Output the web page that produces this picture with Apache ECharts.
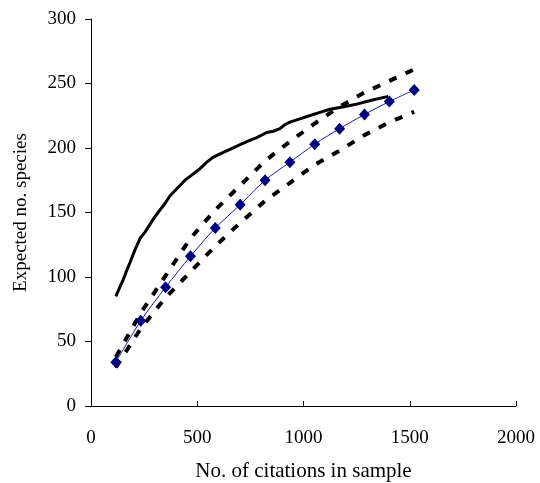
<!DOCTYPE html>
<html>
<head>
<meta charset="utf-8">
<script src="https://cdn.jsdelivr.net/npm/echarts@6/dist/echarts.min.js"></script>
<style>html,body{margin:0;padding:0;background:#fff}#c{width:540px;height:483px}</style>
</head>
<body>
<div id="c"></div>
<script>
// Sample sizes for the rarefaction curve
const sampleSizes = [117, 234, 351, 468, 585, 702, 819, 936, 1053, 1170, 1287, 1404, 1521];
const expectedSpecies = [34, 66, 92, 116, 138, 156, 175, 189, 203, 215, 226, 236, 245];
const upperBound = [38, 72, 101, 130, 152, 171, 190, 205, 219, 232, 243, 252, 261];
const lowerBound = [30, 60, 84, 104, 124, 142, 159, 173, 187, 198, 210, 220, 228];
// Solid reference curve
const refX = [117, 135, 152, 168, 183, 207, 231, 255, 278, 302, 325, 348, 372, 396, 419, 442, 466, 490, 513, 545, 576, 615, 654, 694, 733, 780, 827, 858, 889, 912, 936, 990, 1046, 1085, 1125, 1190, 1250, 1320, 1399];
const refY = [85, 92, 98, 105, 111, 121, 130, 135, 141, 147, 152, 157, 163, 167, 171, 175, 178, 181, 184, 189, 193, 196, 199, 202, 205, 208, 212, 213, 215, 218, 220, 223, 226, 228, 230, 232, 234, 237, 240];
const xTicks = [0, 500, 1000, 1500, 2000];
const yTicks = [0, 50, 100, 150, 200, 250, 300];

const chart = echarts.init(document.getElementById('c'));
const font = '"Liberation Serif", "Times New Roman", serif';
chart.setOption({
  animation: false,
  grid: { left: 91, right: 24, top: 19, bottom: 77, containLabel: false, outerBoundsMode: 'none' },
  xAxis: {
    type: 'value', min: xTicks[0], max: xTicks[xTicks.length - 1], interval: xTicks[1] - xTicks[0],
    name: 'No. of citations in sample', nameLocation: 'middle', nameGap: 55,
    nameTextStyle: { fontFamily: font, fontSize: 21, color: '#000' },
    axisLine: { show: true, onZero: false, lineStyle: { color: '#000', width: 1 } },
    axisTick: { show: true, inside: true, length: 5, lineStyle: { color: '#000' } },
    axisLabel: { fontFamily: font, fontSize: 19, color: '#000', margin: 23, formatter: v => String(v) },
    splitLine: { show: false }
  },
  yAxis: {
    type: 'value', min: yTicks[0], max: yTicks[yTicks.length - 1], interval: yTicks[1] - yTicks[0],
    name: 'Expected no. species', nameLocation: 'middle', nameGap: 60, nameRotate: 90,
    nameTextStyle: { fontFamily: font, fontSize: 19, color: '#000' },
    axisLine: { show: true, lineStyle: { color: '#000', width: 1 } },
    axisTick: { show: true, inside: false, length: 6, lineStyle: { color: '#000' } },
    axisLabel: { fontFamily: font, fontSize: 19, color: '#000', margin: 15, formatter: v => String(v) },
    splitLine: { show: false }
  },
  series: [
    {
      type: 'line', data: refX.map((x, i) => [x, refY[i]]),
      showSymbol: false, symbol: 'none',
      lineStyle: { color: '#000', width: 3 }
    },
    {
      type: 'line', data: sampleSizes.map((x, i) => [x, upperBound[i]]),
      symbol: 'none',
      lineStyle: { color: '#000', width: 4, type: [8, 10] }
    },
    {
      type: 'line', data: sampleSizes.map((x, i) => [x, lowerBound[i]]),
      symbol: 'none',
      lineStyle: { color: '#000', width: 4, type: [8, 10] }
    },
    {
      type: 'line', data: sampleSizes.map((x, i) => [x, expectedSpecies[i]]),
      smooth: 0.3,
      symbol: 'diamond', symbolSize: [11, 12],
      itemStyle: { color: '#000080' },
      lineStyle: { color: '#1a1aa0', width: 1 }
    }
  ]
});
</script>
</body>
</html>
